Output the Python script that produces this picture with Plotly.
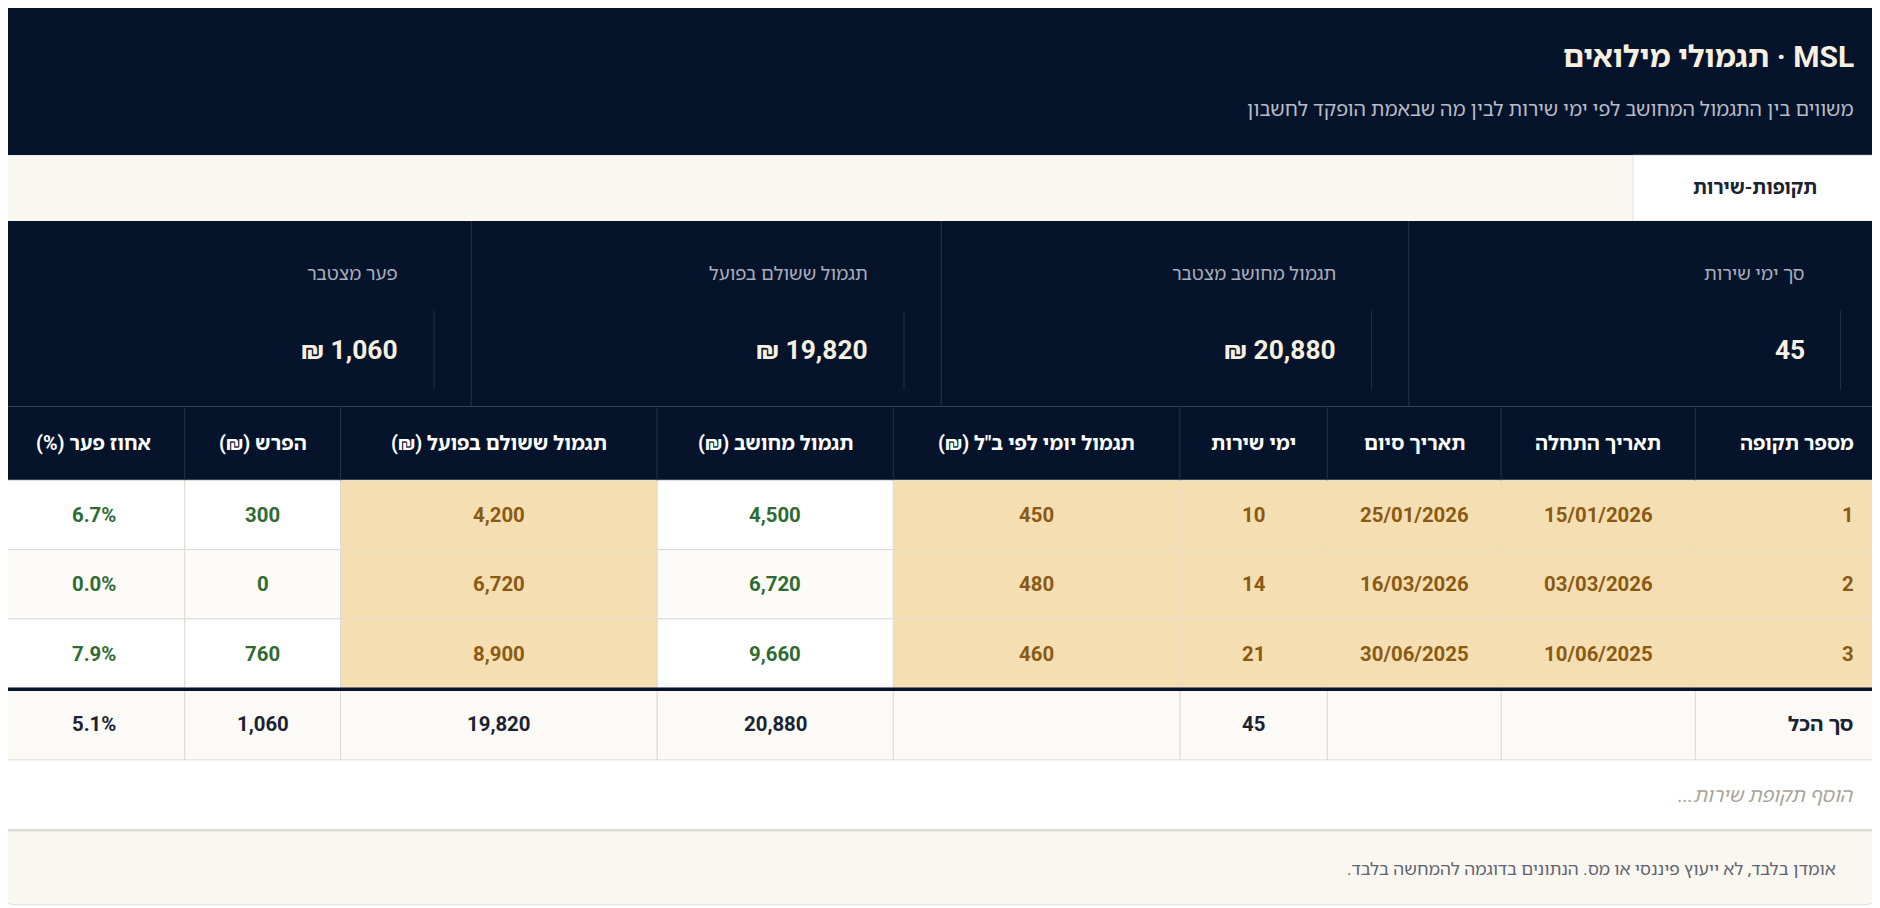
import plotly.graph_objects as go

# data
title = "MSL · תגמולי מילואים"
subtitle = "משווים בין התגמול המחושב לפי ימי שירות לבין מה שבאמת הופקד לחשבון"
tab_label = "תקופות-שירות"
kpi_labels = ["סך ימי שירות", "תגמול מחושב מצטבר", "תגמול ששולם בפועל", "פער מצטבר"]
kpi_values = ["45", "20,880 ₪", "19,820 ₪", "1,060 ₪"]

# columns listed right to left
headers = ["מספר תקופה", "תאריך התחלה", "תאריך סיום", "ימי שירות", 'תגמול יומי לפי ב"ל (₪)',
           "תגמול מחושב (₪)", "תגמול ששולם בפועל (₪)", "הפרש (₪)", "אחוז פער (%)"]
period = ["1", "2", "3"]
start = ["15/01/2026", "03/03/2026", "10/06/2025"]
end = ["25/01/2026", "16/03/2026", "30/06/2025"]
days = ["10", "14", "21"]
daily = ["450", "480", "460"]
calc = ["4,500", "6,720", "9,660"]
paid = ["4,200", "6,720", "8,900"]
diff = ["300", "0", "760"]
pct = ["6.7%", "0.0%", "7.9%"]
totals = ["סך הכל", "", "", "45", "", "20,880", "19,820", "1,060", "5.1%"]
add_row = "הוסף תקופת שירות..."
footer = "אומדן בלבד, לא ייעוץ פיננסי או מס. הנתונים בדוגמה להמחשה בלבד."

W, H = 1568, 760
S = 1880 / W
SY = 908 / H
FONT = "Roboto, 'Noto Sans Hebrew', 'DejaVu Sans', sans-serif"
NAVY = "#06142b"
BEIGE = "#f5deb1"
BROWN = "#8a5a14"
GREEN = "#2e6b33"
GRID = "#dcdad5"
CREAM = "#faf7f0"

# column boundaries, right to left
edges = [1566, 1414, 1252, 1107, 984, 745, 548, 284, 154, 2]
beige_col = [True, True, True, True, True, False, True, False, False]
green_col = [False, False, False, False, False, True, False, True, True]
rows_y = [402, 460, 518, 576]

fig = go.Figure()
shapes, ann = [], []


def rect(x0, y0, x1, y1, fill, line=None, lw=0):
    shapes.append(dict(type="rect", x0=x0, x1=x1, y0=y0, y1=y1, fillcolor=fill,
                       line=dict(color=line or fill, width=lw), layer="below"))


def text(x, y, s, size, color, anchor="center", bold=False, italic=False):
    s = "\u202b" + s + "\u202c"
    if bold:
        s = "<b>" + s + "</b>"
    if italic:
        s = "<i>" + s + "</i>"
    ann.append(dict(x=x, y=y, text=s, showarrow=False, xanchor=anchor, yanchor="middle",
                    font=dict(family=FONT, size=size * S, color=color)))


r = 12
# card
shapes.append(dict(type="path", path=f"M {2+r},2 H {1566-r} Q 1566,2 1566,{2+r} V {757-r} Q 1566,757 {1566-r},757 H {2+r} Q 2,757 2,{757-r} V {2+r} Q 2,2 {2+r},2 Z",
                   fillcolor="white", line=dict(color="#d6d6d6", width=1.5), layer="below"))
# header
shapes.append(dict(type="path", path=f"M {2+r},2 H {1566-r} Q 1566,2 1566,{2+r} V 130 H 2 V {2+r} Q 2,2 {2+r},2 Z",
                   fillcolor=NAVY, line=dict(width=0), layer="below"))
text(1548, 47, title, 25, "#f7f0e0", "right", bold=True)
text(1548, 92, subtitle, 16.5, "#b8bcc6", "right")

# tab bar
rect(2, 130, 1566, 185, CREAM)
rect(1362, 130, 1566, 185, "white", "#e2e0da", 1)
text(1464, 157, tab_label, 16, "#1a2233", bold=True)

# kpi area
rect(2, 185, 1566, 340, NAVY)
kpi_edges = [1566, 1175, 785, 393]
for i in range(4):
    if i > 0:
        shapes.append(dict(type="line", x0=kpi_edges[i], x1=kpi_edges[i], y0=185, y1=340,
                           line=dict(color="#26324a", width=1)))
    xr = kpi_edges[i] - 31
    shapes.append(dict(type="line", x0=xr, x1=xr, y0=260, y1=326, line=dict(color="#26324a", width=1)))
    text(xr - 28, 229, kpi_labels[i], 15.5, "#a9aebb", "right")
    text(xr - 28, 293, kpi_values[i], 22, "#f7f0e0", "right", bold=True)

# table header
rect(2, 340, 1566, 402, NAVY)
for j, h in enumerate(headers):
    x0, x1 = edges[j + 1], edges[j]
    if j > 0:
        shapes.append(dict(type="line", x0=x1, x1=x1, y0=340, y1=402, line=dict(color="#26324a", width=1)))
    if j == 0:
        text(x1 - 18, 371, h, 16.5, "white", "right", bold=True)
    else:
        text((x0 + x1) / 2, 371, h, 16.5, "white", bold=True)

# body
cols = [period, start, end, days, daily, calc, paid, diff, pct]
for i in range(3):
    y0, y1 = rows_y[i], rows_y[i + 1]
    for j in range(9):
        x0, x1 = edges[j + 1], edges[j]
        bg = BEIGE if beige_col[j] else ("#fcfbf8" if i == 1 else "white")
        rect(x0, y0, x1, y1, bg, "#e6ddc9" if beige_col[j] else GRID, 1)
        col = GREEN if green_col[j] else BROWN
        if j == 0:
            text(x1 - 18, (y0 + y1) / 2, cols[j][i], 17, col, "right", bold=True)
        else:
            text((x0 + x1) / 2, (y0 + y1) / 2, cols[j][i], 17, col, bold=True)

# totals row
for j in range(9):
    x0, x1 = edges[j + 1], edges[j]
    rect(x0, 577, x1, 636, "#fbfaf6", GRID, 1)
    if j == 0:
        text(x1 - 18, 606, totals[j], 17, "#1a2233", "right", bold=True)
    else:
        text((x0 + x1) / 2, 606, totals[j], 17, "#1a2233", bold=True)
shapes.append(dict(type="line", x0=2, x1=1566, y0=577, y1=577, line=dict(color=NAVY, width=3.5)))

# add row
text(1548, 666, add_row, 16.5, "#a8a49c", "right", italic=True)

# footer
shapes.append(dict(type="path", path=f"M 2,695 H 1566 V {757-r} Q 1566,757 {1566-r},757 H {2+r} Q 2,757 2,{757-r} Z",
                   fillcolor=CREAM, line=dict(width=0), layer="below"))
shapes.append(dict(type="line", x0=2, x1=1566, y0=695, y1=695, line=dict(color="#dedbd4", width=2.5)))
text(1533, 727, footer, 14.5, "#5e6470", "right")

# page body has an 8px margin: offset the axis ranges so the card lands where the reference has it
fig.update_layout(
    width=1872, height=900, margin=dict(l=0, r=0, t=0, b=0),
    paper_bgcolor="white", plot_bgcolor="white",
    xaxis=dict(range=[8 / S, W], visible=False, fixedrange=True),
    yaxis=dict(range=[H, 8 / SY], visible=False, fixedrange=True),
    shapes=shapes, annotations=ann, showlegend=False,
)
fig.write_html("out.html", config={"displayModeBar": False})
